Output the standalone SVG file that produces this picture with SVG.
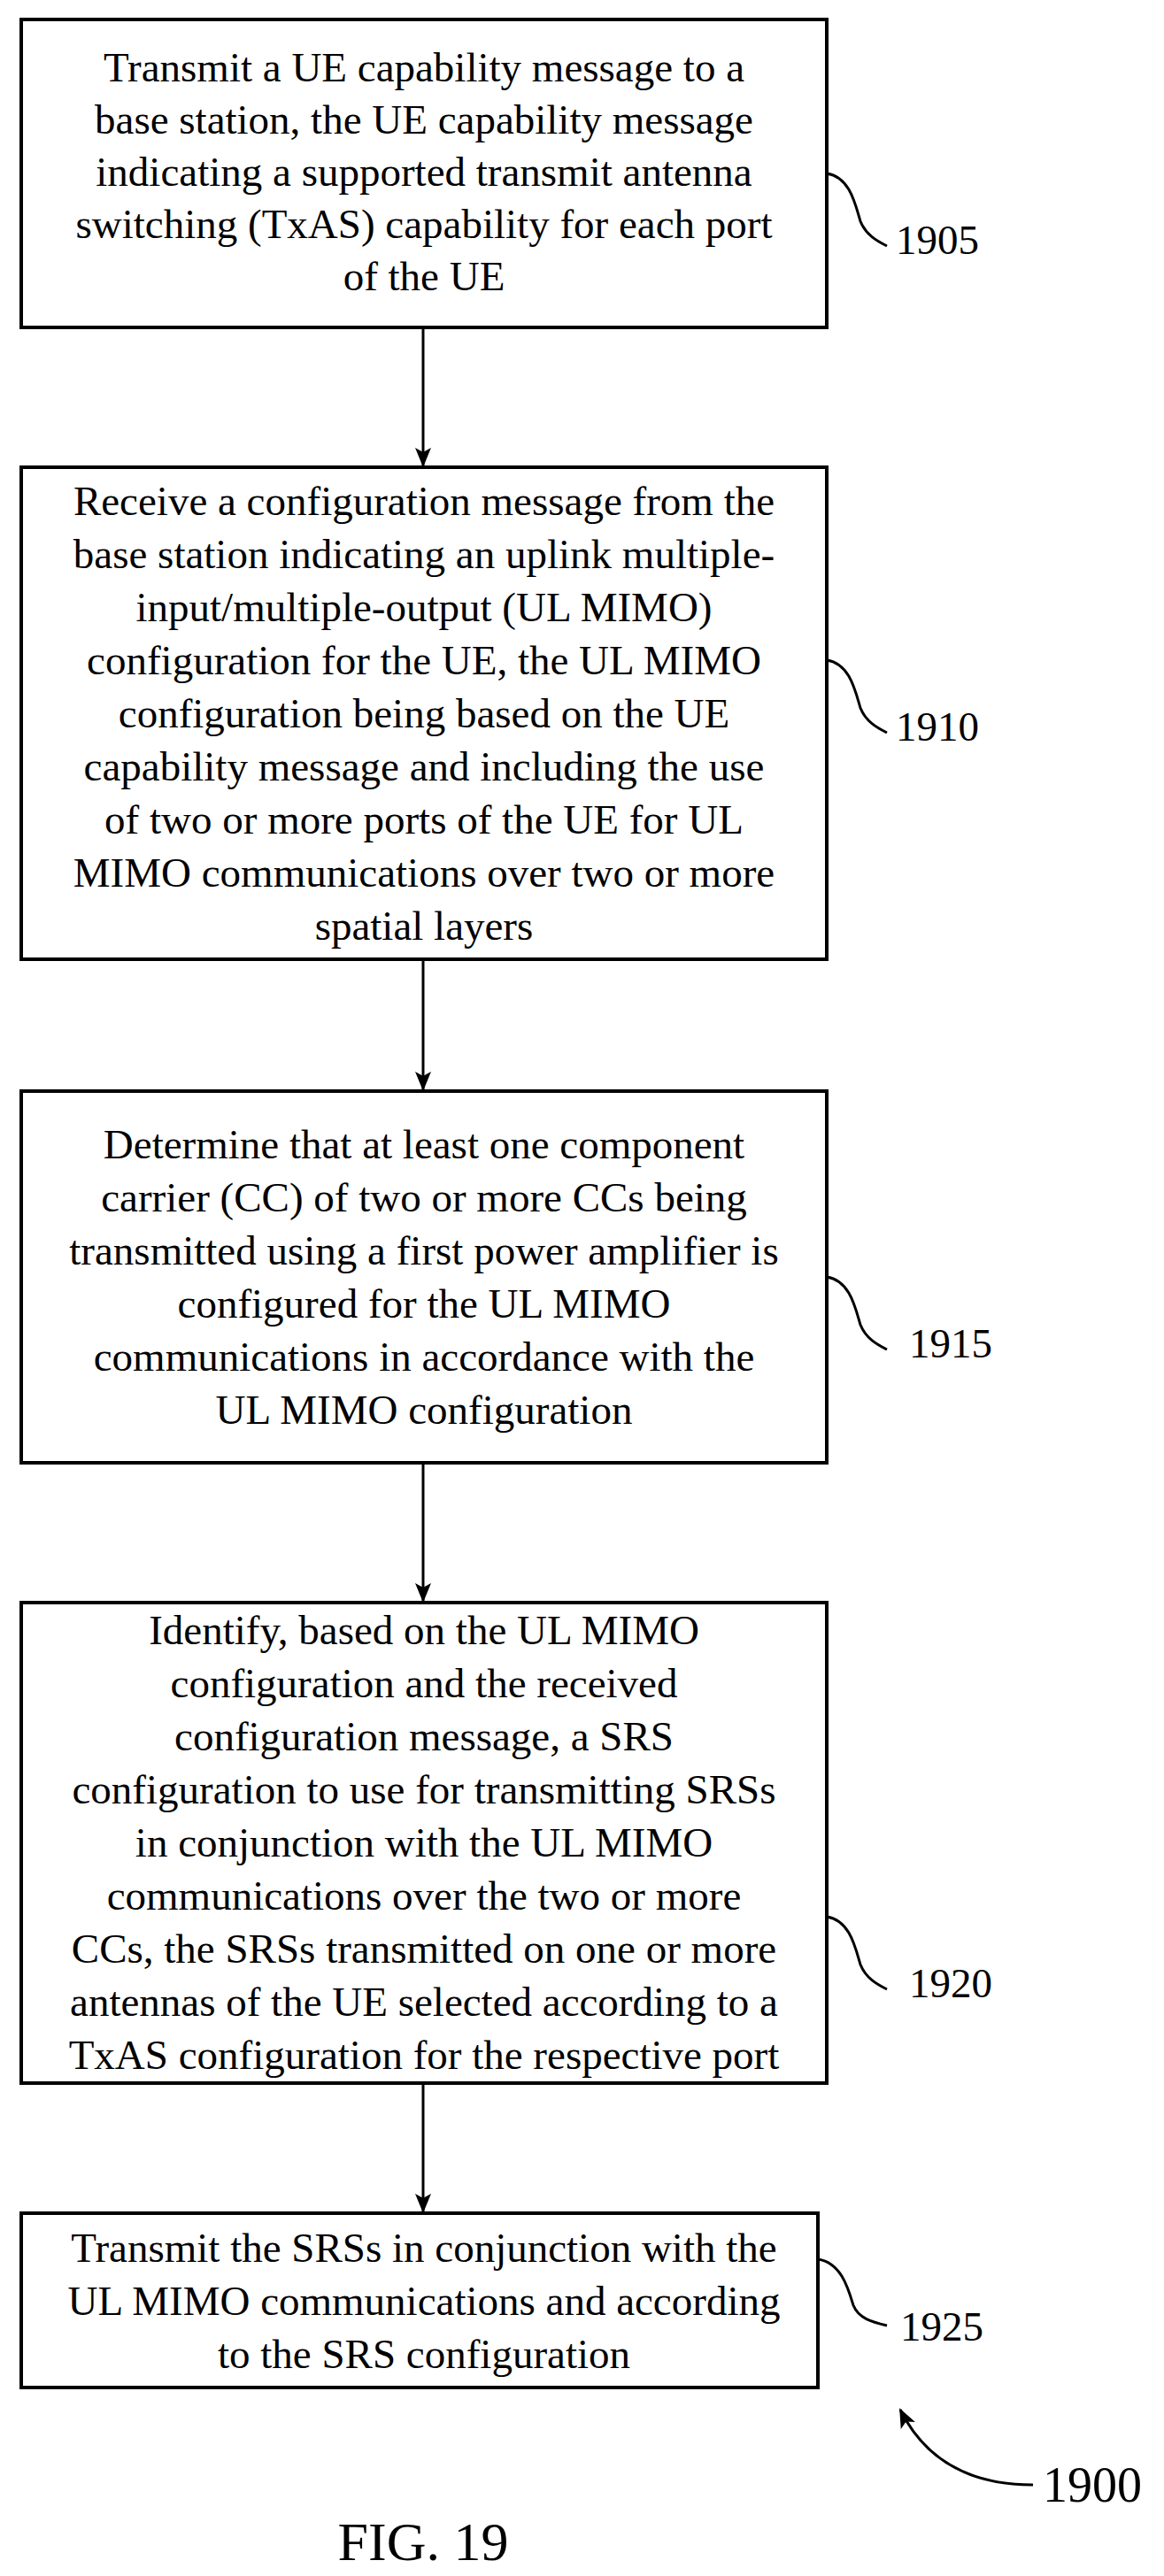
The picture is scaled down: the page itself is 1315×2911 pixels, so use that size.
<svg xmlns="http://www.w3.org/2000/svg" width="1315" height="2911" viewBox="0 0 1315 2911">
<style>
.b{fill:#fff;stroke:#000;stroke-width:4}
text{font-family:'Liberation Serif','DejaVu Serif',serif;font-size:47px;fill:#000}
.t{text-anchor:middle}
.c{fill:none;stroke:#000;stroke-width:3}
</style>
<defs>
<marker id="b" markerWidth="22" markerHeight="22" refX="20" refY="11" orient="auto" markerUnits="userSpaceOnUse" viewBox="0 0 22 22"><path d="M0,2 L22,11 L0,20 L5,11 Z" fill="#000"/></marker></defs>
<rect width="1315" height="2911" fill="#fff"/>
<g id="n1905"><rect class="b" x="24" y="22" width="910" height="348"/>
<text class="t"><tspan x="479" y="92">Transmit a UE capability message to a</tspan><tspan x="479" y="151">base station, the UE capability message</tspan><tspan x="479" y="210">indicating a supported transmit antenna</tspan><tspan x="479" y="269">switching (TxAS) capability for each port</tspan><tspan x="479" y="328">of the UE</tspan></text>
<path class="c" d="M934,196 C960,200 966,230 972,250 C978,265 990,272 1002,278"/><text x="1012" y="287">1905</text></g>
<g id="n1910"><rect class="b" x="24" y="528" width="910" height="556"/>
<text class="t"><tspan x="479" y="582">Receive a configuration message from the</tspan><tspan x="479" y="642">base station indicating an uplink multiple-</tspan><tspan x="479" y="702">input/multiple-output (UL MIMO)</tspan><tspan x="479" y="762">configuration for the UE, the UL MIMO</tspan><tspan x="479" y="822">configuration being based on the UE</tspan><tspan x="479" y="882">capability message and including the use</tspan><tspan x="479" y="942">of two or more ports of the UE for UL</tspan><tspan x="479" y="1002">MIMO communications over two or more</tspan><tspan x="479" y="1062">spatial layers</tspan></text>
<path class="c" d="M934,746 C960,750 966,780 972,800 C978,815 990,822 1002,828"/><text x="1012" y="837">1910</text></g>
<g id="n1915"><rect class="b" x="24" y="1233" width="910" height="420"/>
<text class="t"><tspan x="479" y="1309">Determine that at least one component</tspan><tspan x="479" y="1369">carrier (CC) of two or more CCs being</tspan><tspan x="479" y="1429">transmitted using a first power amplifier is</tspan><tspan x="479" y="1489">configured for the UL MIMO</tspan><tspan x="479" y="1549">communications in accordance with the</tspan><tspan x="479" y="1609">UL MIMO configuration</tspan></text>
<path class="c" d="M934,1443 C960,1447 966,1477 972,1497 C978,1512 990,1519 1002,1525"/><text x="1027" y="1534">1915</text></g>
<g id="n1920"><rect class="b" x="24" y="1811" width="910" height="543"/>
<text class="t"><tspan x="479" y="1858">Identify, based on the UL MIMO</tspan><tspan x="479" y="1918">configuration and the received</tspan><tspan x="479" y="1978">configuration message, a SRS</tspan><tspan x="479" y="2038">configuration to use for transmitting SRSs</tspan><tspan x="479" y="2098">in conjunction with the UL MIMO</tspan><tspan x="479" y="2158">communications over the two or more</tspan><tspan x="479" y="2218">CCs, the SRSs transmitted on one or more</tspan><tspan x="479" y="2278">antennas of the UE selected according to a</tspan><tspan x="479" y="2338">TxAS configuration for the respective port</tspan></text>
<path class="c" d="M934,2166 C960,2170 966,2200 972,2220 C978,2235 990,2242 1002,2248"/><text x="1027" y="2257">1920</text></g>
<g id="n1925"><rect class="b" x="24" y="2501" width="900" height="197"/>
<text class="t"><tspan x="479" y="2556">Transmit the SRSs in conjunction with the</tspan><tspan x="479" y="2616">UL MIMO communications and according</tspan><tspan x="479" y="2676">to the SRS configuration</tspan></text>
<path class="c" d="M924,2553 C950,2557 958,2585 964,2605 C970,2620 985,2624 1002,2628"/><text x="1017" y="2645">1925</text></g>
<g id="n1900"><path class="c" d="M1167,2808 C1110,2808 1050,2790 1017,2723" marker-end="url(#b)"/><text x="1178" y="2827" style="font-size:56px">1900</text></g>
<text class="t" x="478" y="2893" style="font-size:62px">FIG. 19</text>
<g id="connectors">
<line class="c" x1="478" y1="370" x2="478" y2="526" marker-end="url(#b)"/>
<line class="c" x1="478" y1="1084" x2="478" y2="1231" marker-end="url(#b)"/>
<line class="c" x1="478" y1="1653" x2="478" y2="1809" marker-end="url(#b)"/>
<line class="c" x1="478" y1="2354" x2="478" y2="2499" marker-end="url(#b)"/>
</g>
</svg>
